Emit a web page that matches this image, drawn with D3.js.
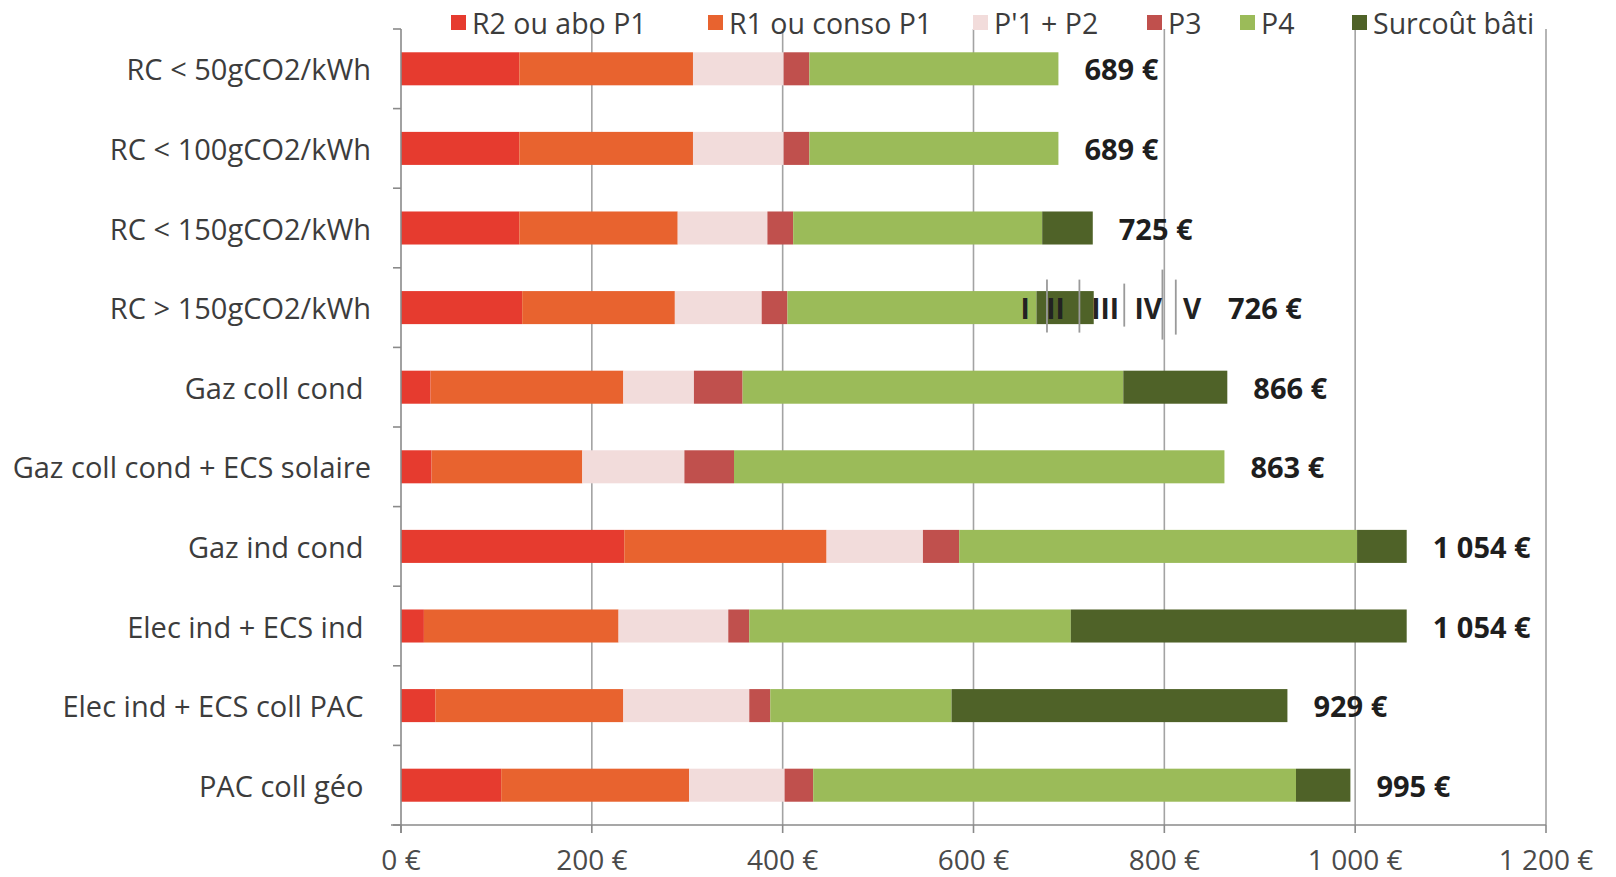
<!DOCTYPE html>
<html>
<head>
<meta charset="utf-8">
<script src="https://cdn.jsdelivr.net/npm/d3@7"></script>
<style>
  html, body { margin: 0; padding: 0; background: #fff; }
  svg { display: block; font-family: "Open Sans", "Noto Sans", sans-serif; }
</style>
</head>
<body>
<svg id="chart" width="1616" height="877"></svg>
<script>
// Heating solutions compared: yearly cost per dwelling, split by cost component.
const categories = [
  "RC < 50gCO2/kWh",
  "RC < 100gCO2/kWh",
  "RC < 150gCO2/kWh",
  "RC > 150gCO2/kWh",
  "Gaz coll cond\u00a0",
  "Gaz coll cond + ECS solaire",
  "Gaz ind cond\u00a0",
  "Elec ind + ECS ind\u00a0",
  "Elec ind + ECS coll PAC\u00a0",
  "PAC coll géo\u00a0"
];

const seriesNames = ["R2 ou abo P1", "R1 ou conso P1", "P'1 + P2", "P3", "P4", "Surcoût bâti"];
const seriesColors = ["#e63b2f", "#e8632f", "#f2dcdb", "#c0504d", "#9bbb59", "#4f6228"];

// one array per cost component, in category order (€)
const r2AboP1    = [124, 124, 124, 127,  31,  32, 234,  24,  36, 105];
const r1ConsoP1  = [182, 182, 166, 160, 202, 158, 212, 204, 197, 197];
const p1P2       = [ 95,  95,  94,  91,  74, 107, 101, 115, 132, 100];
const p3         = [ 27,  27,  27,  27,  51,  52,  38,  22,  22,  30];
const p4         = [261, 261, 261, 261, 399, 514, 417, 337, 190, 506];
const surcoutBati= [  0,   0,  53,  60, 109,   0,  52, 352, 352,  57];

// totals printed at the end of each bar
const totals = [689, 689, 725, 726, 866, 863, 1054, 1054, 929, 995];

const xTicks = [0, 200, 400, 600, 800, 1000, 1200];

// roman-numeral marks printed along the "RC > 150gCO2/kWh" bar
const romanRow = "RC > 150gCO2/kWh";
const romanLabels = ["I", "II", "III", "IV", "V"];
const romanAt = [654, 686, 738, 783, 829];
const dividerAt = [677, 711, 758, 798, 812];
const dividerSpan = [[-28, 25], [-28, 25], [-24, 19], [-38, 32], [-28, 27]];

const series = [r2AboP1, r1ConsoP1, p1P2, p3, p4, surcoutBati];

const svg = d3.select("#chart");
const plot = { left: 401, right: 1546, top: 29, bottom: 825 };

const x = d3.scaleLinear().domain([0, 1200]).range([plot.left, plot.right]);
const y = d3.scaleBand().domain(categories).range([plot.top, plot.bottom])
  .paddingInner(0.585).paddingOuter(0.2925);
const step = y.step();
const gap = step - y.bandwidth();

const fr = d3.formatLocale({ decimal: ",", thousands: "\u00a0", grouping: [3], currency: ["", "\u00a0€"] });
const euro = v => fr.format(",.0f")(v) + "\u00a0€";

const gridColor = "#a3a3a3";
const axisColor = "#8a8a8a";

// vertical gridlines
svg.append("g").selectAll("line").data(xTicks.filter(d => d > 0)).join("line")
  .attr("x1", d => x(d)).attr("x2", d => x(d))
  .attr("y1", plot.top).attr("y2", plot.bottom)
  .attr("stroke", gridColor).attr("stroke-width", 1.6);

// stacked data
const rows = categories.map((c, i) => {
  let acc = 0;
  return series.map((s, k) => {
    const seg = { cat: c, k, x0: acc, x1: acc + s[i] };
    acc += s[i];
    return seg;
  });
}).flat().filter(d => d.x1 > d.x0);

svg.append("g").selectAll("rect").data(rows).join("rect")
  .attr("x", d => x(d.x0))
  .attr("y", d => y(d.cat))
  .attr("width", d => x(d.x1) - x(d.x0))
  .attr("height", y.bandwidth())
  .attr("fill", d => seriesColors[d.k]);

// x axis
const xAxis = svg.append("g").attr("transform", `translate(0,${plot.bottom})`);
xAxis.append("line").attr("x1", plot.left - 10).attr("x2", plot.right)
  .attr("stroke", axisColor).attr("stroke-width", 1.6);
xAxis.selectAll("line.tick").data(xTicks).join("line").attr("class", "tick")
  .attr("x1", d => x(d)).attr("x2", d => x(d)).attr("y1", 0).attr("y2", 8)
  .attr("stroke", axisColor).attr("stroke-width", 1.6);
xAxis.selectAll("text").data(xTicks).join("text")
  .attr("x", d => x(d)).attr("y", 34)
  .attr("text-anchor", "middle").attr("dominant-baseline", "central")
  .attr("font-size", 28).attr("fill", "#4a4a4a")
  .text(d => euro(d));

// y axis with ticks between categories
const yAxis = svg.append("g");
yAxis.append("line").attr("x1", plot.left).attr("x2", plot.left)
  .attr("y1", plot.top).attr("y2", plot.bottom + 8)
  .attr("stroke", axisColor).attr("stroke-width", 1.6);
const bounds = categories.map(c => y(c) - gap / 2).concat([plot.bottom]);
yAxis.selectAll("line.tick").data(bounds).join("line").attr("class", "tick")
  .attr("x1", plot.left - 8).attr("x2", plot.left).attr("y1", d => d).attr("y2", d => d)
  .attr("stroke", axisColor).attr("stroke-width", 1.6);
yAxis.selectAll("text").data(categories).join("text")
  .attr("x", plot.left - 30)
  .attr("y", d => y(d) + y.bandwidth() / 2)
  .attr("text-anchor", "end").attr("dominant-baseline", "central")
  .attr("font-size", 29).attr("fill", "#3c3c3c")
  .style("white-space", "pre")
  .text(d => d);

// roman-numeral marks and their dividers
const ry = y(romanRow) + y.bandwidth() / 2;
svg.append("g").selectAll("line").data(dividerAt).join("line")
  .attr("x1", d => x(d)).attr("x2", d => x(d))
  .attr("y1", (d, i) => ry + dividerSpan[i][0]).attr("y2", (d, i) => ry + dividerSpan[i][1])
  .attr("stroke", "#9a9a9a").attr("stroke-width", 1.8);
svg.append("g").selectAll("text").data(romanLabels).join("text")
  .attr("x", (d, i) => x(romanAt[i])).attr("y", ry)
  .attr("text-anchor", "middle").attr("dominant-baseline", "central")
  .attr("font-size", 28).attr("font-weight", 700).attr("fill", "#222")
  .text(d => d);

// totals
svg.append("g").selectAll("text").data(categories).join("text")
  .attr("x", (d, i) => d === romanRow ? x(romanAt[romanAt.length - 1]) + 36 : x(totals[i]) + 26)
  .attr("y", d => y(d) + y.bandwidth() / 2)
  .attr("dominant-baseline", "central")
  .attr("font-size", 29).attr("font-weight", 700).attr("fill", "#1e1e1e")
  .text((d, i) => euro(totals[i]));

// legend
const legendX = [451, 708, 973, 1147, 1240, 1352];
const legend = svg.append("g").selectAll("g").data(seriesNames).join("g")
  .attr("transform", (d, i) => `translate(${legendX[i]},23)`);
legend.append("rect").attr("x", 0).attr("y", -8).attr("width", 15).attr("height", 15)
  .attr("fill", (d, i) => seriesColors[i]);
legend.append("text").attr("x", 21).attr("y", 0)
  .attr("dominant-baseline", "central")
  .attr("font-size", 28.5).attr("fill", "#3c3c3c")
  .text(d => d);
</script>
</body>
</html>
